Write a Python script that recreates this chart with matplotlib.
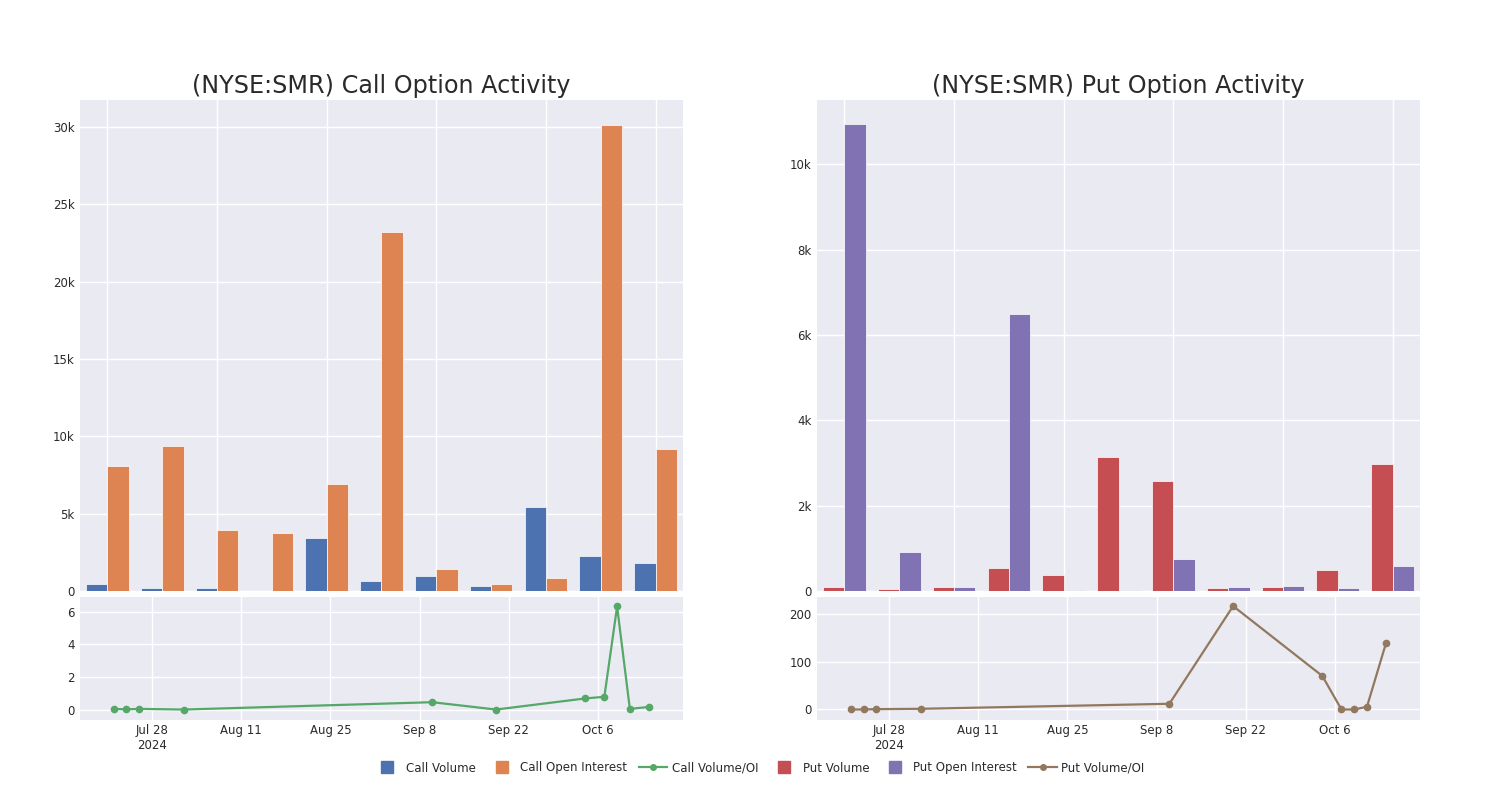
import matplotlib.pyplot as plt
import matplotlib.ticker as mticker
from matplotlib.lines import Line2D
import numpy as np
import pandas as pd

# data
dates = pd.to_datetime(['2024-07-22', '2024-07-24', '2024-07-26', '2024-08-02', '2024-09-10',
                        '2024-09-20', '2024-10-04', '2024-10-07', '2024-10-09', '2024-10-11', '2024-10-14'])
call_volume = [475, 170, 220, 0, 3420, 650, 970, 350, 5430, 2290, 1820]
call_oi = [8100, 9370, 3920, 3770, 6950, 23200, 1410, 450, 840, 30150, 9180]
call_ratio = [0.04, 0.01, 0.04, 0.0, 0.45, 0.0, 0.68, 0.78, 6.31, 0.04, 0.16]
put_volume = [94, 39, 86, 540, 368, 3140, 2570, 63, 86, 485, 2970]
put_oi = [10940, 920, 86, 6500, 16, 31, 760, 94, 125, 70, 590]
put_ratio = [0.0, 0.0, 0.7, 1.4, 11.9, 216, 70, 0.0, 0.0, 5.6, 139]

tick_dates = pd.date_range('2024-07-28', periods=6, freq='14D')
tick_labels = [d.strftime('%b %-d') for d in tick_dates]
tick_labels[0] += '\n2024'

BG = '#EAEAF2'
TXT = '#2a2a2a'
blue, orange, green = '#4C72B0', '#DD8452', '#55A868'
red, purple, brown = '#C44E52', '#8172B3', '#937860'

plt.rcParams['font.family'] = ['DejaVu Sans']

fig = plt.figure(figsize=(15, 8), dpi=100)


def style(ax):
	ax.set_facecolor(BG)
	for s in ax.spines.values():
		s.set_visible(False)
	ax.grid(True, color='white', linewidth=1)
	ax.set_axisbelow(True)
	ax.tick_params(length=0, labelsize=8.5, labelcolor=TXT, pad=4)


def kfmt(v, pos):
	if v == 0:
		return '0'
	return '%gk' % (v / 1000)


def panel(x0, title, vol, oi, ratio, c1, c2, c3, ymax, ystep, rlim, rstep):
	ax = fig.add_axes([x0, 0.26125, 0.402, 0.61375])
	bx = fig.add_axes([x0, 0.1, 0.402, 0.15375])
	style(ax)
	style(bx)
	x = np.arange(len(vol))
	w = 0.39
	ax.bar(x - w / 2, vol, w, color=c1, edgecolor='white', linewidth=0.5)
	ax.bar(x + w / 2, oi, w, color=c2, edgecolor='white', linewidth=0.5)
	ax.set_xlim(-0.5, len(vol) - 0.5)
	ax.set_xticks(x[::2])
	ax.set_xticklabels([])
	ax.set_ylim(0, ymax)
	ax.yaxis.set_major_locator(mticker.MultipleLocator(ystep))
	ax.yaxis.set_major_formatter(mticker.FuncFormatter(kfmt))
	ax.set_title(title, fontsize=17.2, color=TXT, pad=5)

	bx.plot(dates, ratio, color=c3, linewidth=1.6, marker='o', markersize=4.5)
	bx.set_xlim(pd.Timestamp('2024-07-16 17:00'), pd.Timestamp('2024-10-19 08:00'))
	bx.set_xticks(tick_dates)
	bx.set_xticklabels(tick_labels)
	bx.tick_params(axis='x', pad=3)
	bx.set_ylim(*rlim)
	bx.yaxis.set_major_locator(mticker.MultipleLocator(rstep))


panel(0.0533, '(NYSE:SMR) Call Option Activity', call_volume, call_oi, call_ratio,
	blue, orange, green, 31750, 5000, (-0.64, 6.89), 2)
panel(0.5447, '(NYSE:SMR) Put Option Activity', put_volume, put_oi, put_ratio,
	red, purple, brown, 11510, 2000, (-22, 235), 100)

handles = [
	Line2D([], [], color=blue, marker='s', linestyle='none', markersize=8),
	Line2D([], [], color=orange, marker='s', linestyle='none', markersize=8),
	Line2D([], [], color=green, marker='o', linewidth=1.6, markersize=4),
	Line2D([], [], color=red, marker='s', linestyle='none', markersize=8),
	Line2D([], [], color=purple, marker='s', linestyle='none', markersize=8),
	Line2D([], [], color=brown, marker='o', linewidth=1.6, markersize=4),
]
labels = ['Call Volume', 'Call Open Interest', 'Call Volume/OI',
	'Put Volume', 'Put Open Interest', 'Put Volume/OI']
leg = fig.legend(handles, labels, loc='center', bbox_to_anchor=(0.506, 0.04), ncol=6,
	frameon=False, fontsize=8.5, handlelength=2.4, handletextpad=0.4, columnspacing=0.95)
for t in leg.get_texts():
	t.set_color(TXT)

fig.savefig('out.png', dpi=100)
